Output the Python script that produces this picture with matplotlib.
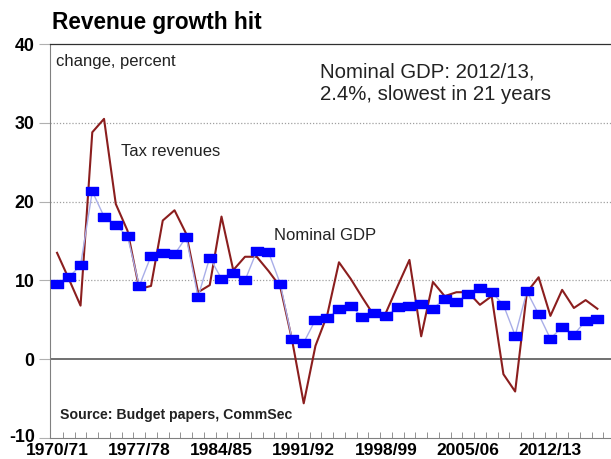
import numpy as np
import matplotlib
matplotlib.use("Agg")
import matplotlib.pyplot as plt
import matplotlib.transforms as mtransforms

plt.rcParams['font.family'] = ['Liberation Sans', 'DejaVu Sans']
plt.rcParams['axes.unicode_minus'] = False

# financial years 1970/71 .. 2016/17
years = [f"{y}/{str(y + 1)[-2:]}" for y in range(1970, 2017)]
tick_years = ["1970/71", "1977/78", "1984/85", "1991/92", "1998/99", "2005/06", "2012/13"]

nominal_gdp = [9.6, 10.4, 11.9, 21.3, 18.1, 17.0, 15.6, 9.3, 13.1, 13.5,
               13.3, 15.5, 7.9, 12.9, 10.2, 11.0, 10.0, 13.7, 13.6, 9.6,
               2.6, 2.1, 5.0, 5.2, 6.4, 6.8, 5.3, 5.9, 5.5, 6.6,
               6.8, 7.0, 6.4, 7.7, 7.2, 8.3, 9.0, 8.5, 6.9, 3.0,
               8.6, 5.7, 2.6, 4.1, 3.1, 4.9, 5.1]

tax_revenues = [13.5, 10.2, 6.8, 28.8, 30.5, 19.7, 16.3, 8.9, 9.3, 17.6,
                18.9, 15.9, 8.5, 9.4, 18.1, 11.3, 13.0, 13.0, 11.2, 9.2,
                2.5, -5.6, 1.7, 5.6, 12.3, 10.2, 7.8, 5.5, 5.9, 9.3,
                12.6, 2.9, 9.8, 8.0, 8.5, 8.5, 6.9, 8.0, -1.9, -4.1,
                8.5, 10.4, 5.5, 8.8, 6.5, 7.5, 6.4]

x = np.arange(len(years))

fig = plt.figure(figsize=(6.11, 4.59), dpi=100)
ax = fig.add_axes([50 / 611, 21 / 459, 565 / 611, 394 / 459])

for g in [10, 20, 30]:
    ax.axhline(g, color='#a0a0a0', lw=0.9, ls=(0, (1, 1.5)), zorder=1)
ax.axhline(0, color='#707070', lw=1.4, zorder=1)

rect = [(-1, -0.75), (1, -0.75), (1, 0.75), (-1, 0.75), (-1, -0.75)]
ax.plot(x, nominal_gdp, color='#a9aee8', lw=1.0, marker=rect, ms=8.5,
        mfc='#0000ff', mec='#0000ff', zorder=3)
ax.plot(x, tax_revenues, color='#8b1e1e', lw=1.5, zorder=2)

ax.set_ylim(-10, 40)
ax.set_xlim(-0.6, 47.5)
ax.set_yticks([-10, 0, 10, 20, 30, 40])
ax.set_xticks([years.index(t) for t in tick_years])
ax.set_xticklabels(tick_years)
ax.set_xticks(np.arange(len(years)) + 0.5, minor=True)
ax.tick_params(axis='x', which='major', length=0, pad=3.5, labelsize=12.5)
ax.tick_params(axis='x', which='minor', direction='in', length=4, color='#808080')
ax.tick_params(axis='y', length=8, color='#b0b0b0', pad=3, labelsize=12.8)
for lab in ax.get_xticklabels() + ax.get_yticklabels():
    lab.set_fontweight('bold')

# nudge the bottom y label up a touch so it clears the first year label
lift = mtransforms.ScaledTranslation(0, 3 / 100, fig.dpi_scale_trans)
ylab = ax.get_yticklabels()[0]
ylab.set_transform(ylab.get_transform() + lift)

ax.spines['right'].set_visible(False)
ax.spines['left'].set_color('#808080')
ax.spines['bottom'].set_color('#808080')
ax.spines['top'].set_color('#303030')
ax.spines['top'].set_linewidth(0.9)

fig.text(52 / 611, 1 - 23 / 459, "Revenue growth hit", fontsize=16.3, fontweight='bold',
         va='center', ha='left')
ax.text(-0.05, 37.8, "change, percent", fontsize=12, va='center', color='#222222')
ax.text(22.4, 35.0, "Nominal GDP: 2012/13,\n2.4%, slowest in 21 years", fontsize=14.7,
        va='center', linespacing=1.2, color='#222222')
ax.text(5.45, 26.3, "Tax revenues", fontsize=12, va='center', color='#222222')
ax.text(18.47, 15.7, "Nominal GDP", fontsize=12, va='center', color='#222222')
ax.text(0.25, -7.1, "Source: Budget papers, CommSec", fontsize=10.2, fontweight='bold',
        va='center', color='#222222')

fig.savefig("out.png", dpi=100)
